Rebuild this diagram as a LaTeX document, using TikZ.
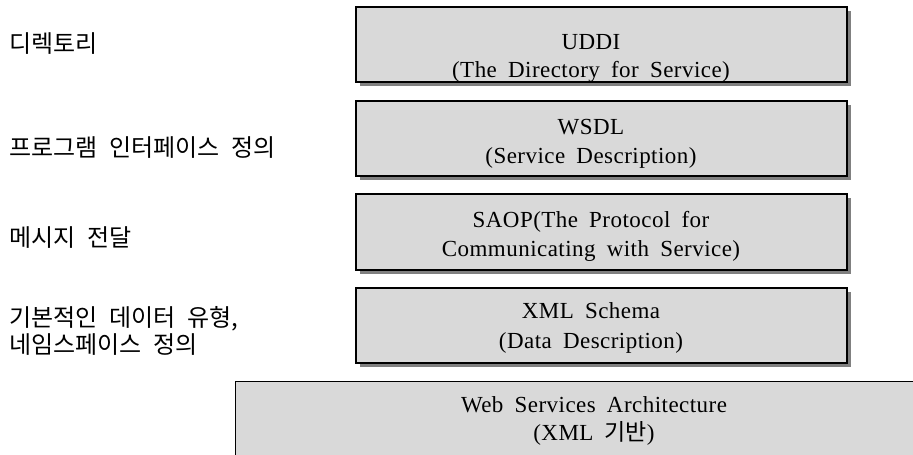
\documentclass[tikz,border=0pt]{standalone}
\usepackage{fontspec}
\usetikzlibrary{shadows}
\setmainfont{Liberation Serif}[LetterSpace=2, WordSpace=1.8]
\newfontfamily\kfont{Noto Sans CJK KR}[WordSpace=2.2]
\definecolor{layerfill}{HTML}{D9D9D9}
\definecolor{layershadow}{HTML}{808080}

\begin{document}
\begin{tikzpicture}[x=1pt, y=-1pt,
  layer/.style={draw=black, line width=1.3pt, fill=layerfill, inner sep=0pt,
    minimum width=491pt, minimum height=75pt,
    drop shadow={shadow xshift=4pt, shadow yshift=-4pt, fill=layershadow, opacity=1}},
  base/.style={draw=black, line width=1.3pt, fill=layerfill, inner sep=0pt},
  line/.style={anchor=base, inner sep=0pt, font=\fontsize{23}{29}\selectfont},
  note/.style={anchor=base west, inner sep=0pt, font=\kfont\fontsize{24}{27}\selectfont}]
\useasboundingbox (0,0) rectangle (913,455);
\clip (0,0) rectangle (913,455);

% protocol stack layers
\node[layer] (uddi) at (601.5,44.5) {};
\node[layer] (wsdl) at (601.5,138.5) {};
\node[layer, minimum height=76pt] (soap) at (601.5,232) {};
\node[layer] (xsd)  at (601.5,325.5) {};
\node[base, minimum width=700pt, minimum height=100pt, anchor=north west] (wsa) at (235,381) {};

% layer captions
\node[line] (uddiA) at (591,49)  {UDDI};
\node[line] (uddiB) at (591,77)  {(The Directory for Service)};
\node[line] (wsdlA) at (591,134) {WSDL};
\node[line] (wsdlB) at (591,163) {(Service Description)};
\node[line] (soapA) at (591,227) {SAOP(The Protocol for};
\node[line] (soapB) at (591,256) {Communicating with Service)};
\node[line] (xsdA)  at (591,318) {XML Schema};
\node[line] (xsdB)  at (591,348) {(Data Description)};
\node[line] (wsaA)  at (594,412) {Web Services Architecture};
\node[line] (wsaB)  at (594,440) {(XML {\kfont 기반})};

% role of each layer
\node[note] (roleA) at (9,52)  {디렉토리};
\node[note] (roleB) at (9,156) {프로그램 인터페이스 정의};
\node[note] (roleC) at (9,246) {메시지 전달};
\node[note] (roleD) at (9,326) {기본적인 데이터 유형,};
\node[note] (roleE) at (9,353) {네임스페이스 정의};
\end{tikzpicture}
\end{document}
